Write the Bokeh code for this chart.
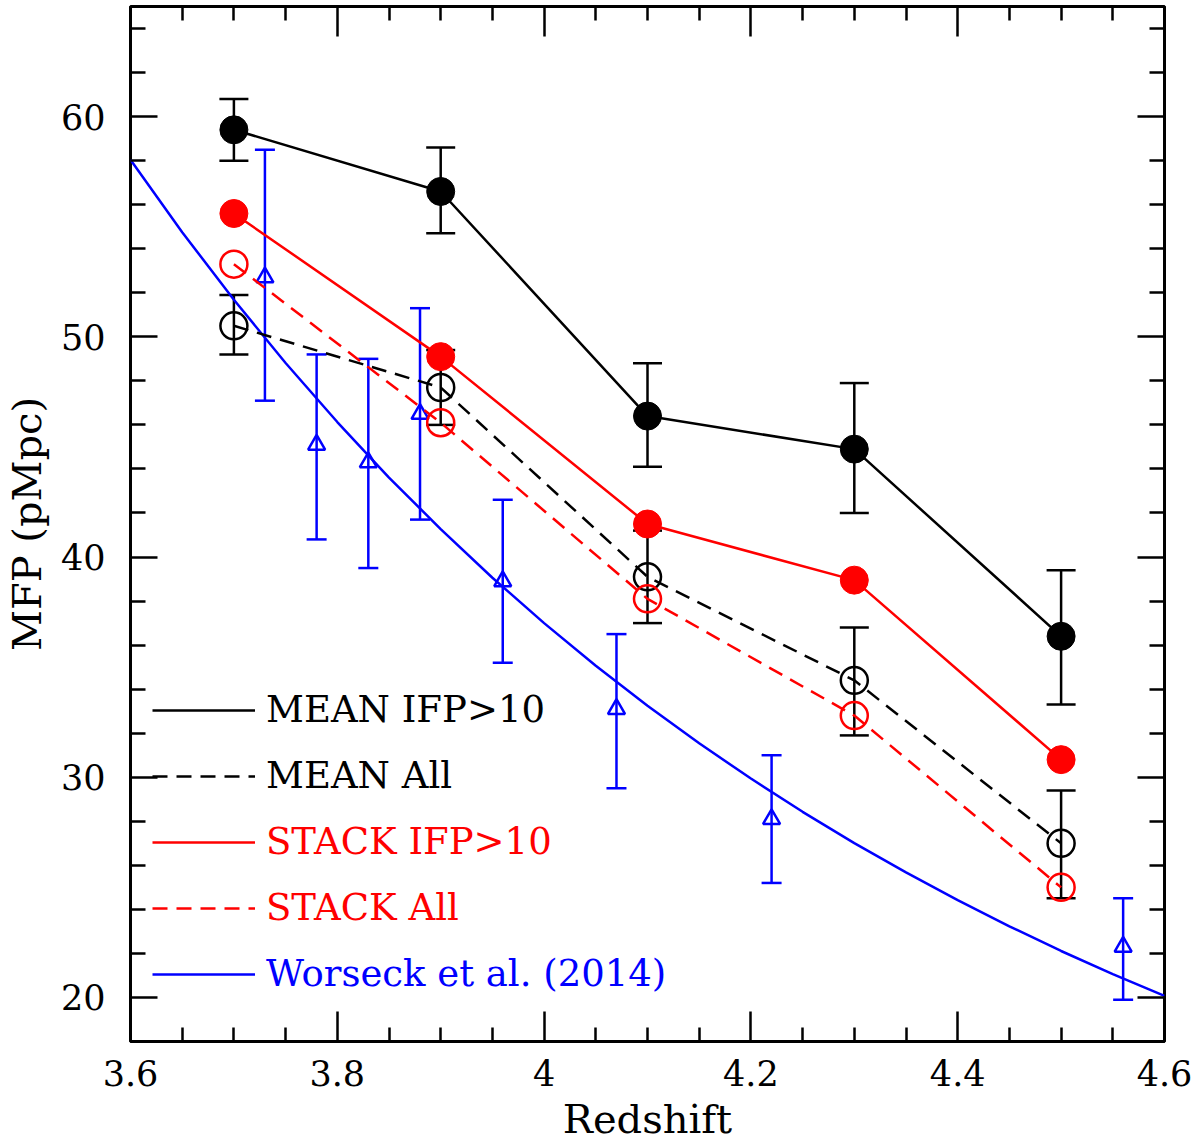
from bokeh.plotting import figure
from bokeh.models import (Range1d, LinearAxis, FixedTicker, CustomJSTickFormatter,
                          ColumnDataSource, Whisker, TeeHead, Legend, LegendItem)
from bokeh.embed import file_html
from bokeh.resources import INLINE

# --- data ---
redshift = [3.7, 3.9, 4.1, 4.3, 4.5]

mean_ifp = [59.4, 56.6, 46.4, 44.9, 36.4]
mean_ifp_lo = [58.0, 54.7, 44.1, 42.0, 33.3]
mean_ifp_hi = [60.8, 58.6, 48.8, 47.9, 39.4]

mean_all = [50.5, 47.7, 39.1, 34.4, 27.0]
mean_all_lo = [49.2, 46.0, 37.0, 31.9, 24.5]
mean_all_hi = [51.9, 49.4, 41.2, 36.8, 29.4]

stack_ifp = [55.6, 49.1, 41.5, 38.95, 30.8]
stack_all = [53.3, 46.1, 38.1, 32.8, 25.0]

w14_z = [3.73, 3.78, 3.83, 3.88, 3.96, 4.07, 4.22, 4.56]
w14_mfp = [52.7, 45.1, 44.3, 46.5, 38.9, 33.1, 28.1, 22.3]
w14_lo = [47.1, 40.8, 39.5, 41.7, 35.2, 29.5, 25.2, 19.9]
w14_hi = [58.5, 49.2, 49.0, 51.3, 42.6, 36.5, 31.0, 24.5]

fit_z = [3.6, 3.65, 3.7, 3.75, 3.8, 3.85, 3.9, 3.95, 4.0, 4.05, 4.1,
         4.15, 4.2, 4.25, 4.3, 4.35, 4.4, 4.45, 4.5, 4.55, 4.6]
fit_mfp = [58.04, 54.75, 51.68, 48.81, 46.13, 43.61, 41.27, 39.06, 37.00, 35.06, 33.25,
           31.54, 29.94, 28.43, 27.01, 25.68, 24.42, 23.23, 22.11, 21.06, 20.07]

x_major = [3.6, 3.8, 4.0, 4.2, 4.4, 4.6]
x_minor = [3.65, 3.7, 3.75, 3.85, 3.9, 3.95, 4.05, 4.1, 4.15,
           4.25, 4.3, 4.35, 4.45, 4.5, 4.55]
y_major = [20, 30, 40, 50, 60]
y_minor = [18, 22, 24, 26, 28, 32, 34, 36, 38, 42, 44, 46, 48,
           52, 54, 56, 58, 62, 64]

legend_labels = ["MEAN IFP>10", "MEAN All", "STACK IFP>10", "STACK All", "Worseck et al. (2014)"]

BLACK, RED, BLUE = "#000000", "#ff0000", "#0000ff"
SERIF = "DejaVu Serif"

p = figure(width=1195, height=1145, x_range=Range1d(3.6, 4.6), y_range=Range1d(18, 65),
           output_backend="svg", toolbar_location=None,
           min_border_left=130, min_border_right=31, min_border_top=6, min_border_bottom=104)
p.grid.visible = False
p.outline_line_color = BLACK
p.outline_line_width = 3
p.background_fill_color = "white"
p.border_fill_color = "white"

fmt = CustomJSTickFormatter(code="return String(Number(tick.toFixed(1)));")


def style_axis(ax, tick_len, minor_len, show_labels):
    ax.axis_line_color = None
    ax.major_tick_in = tick_len
    ax.major_tick_out = 0
    ax.minor_tick_in = minor_len
    ax.minor_tick_out = 0
    ax.major_tick_line_width = 2.5
    ax.minor_tick_line_width = 2.5
    ax.major_tick_line_color = BLACK
    ax.minor_tick_line_color = BLACK
    ax.formatter = fmt
    if show_labels:
        ax.major_label_text_font = SERIF
        ax.major_label_text_font_size = "35px"
        ax.major_label_text_color = BLACK
        ax.axis_label_text_font = SERIF
        ax.axis_label_text_font_size = "40px"
        ax.axis_label_text_font_style = "normal"
        ax.axis_label_text_color = BLACK
    else:
        ax.major_label_text_font_size = "1px"
        ax.major_label_text_alpha = 0
        ax.major_label_standoff = 0


xb = p.xaxis[0]
xb.ticker = FixedTicker(ticks=x_major, minor_ticks=x_minor)
style_axis(xb, 30, 14, True)
xb.axis_label = "Redshift"
xb.major_label_standoff = 18
xb.axis_label_standoff = 7

yl = p.yaxis[0]
yl.ticker = FixedTicker(ticks=y_major, minor_ticks=y_minor)
style_axis(yl, 27, 15, True)
yl.axis_label = "MFP (pMpc)"
yl.major_label_standoff = 25
yl.axis_label_standoff = 8

xt = LinearAxis(ticker=FixedTicker(ticks=x_major, minor_ticks=x_minor))
style_axis(xt, 30, 14, False)
p.add_layout(xt, "above")
yr = LinearAxis(ticker=FixedTicker(ticks=y_major, minor_ticks=y_minor))
style_axis(yr, 27, 15, False)
p.add_layout(yr, "right")

# --- Worseck et al. (2014) ---
fit_line = p.line(fit_z, fit_mfp, line_color=BLUE, line_width=2.5)
w_src = ColumnDataSource(dict(x=w14_z, y=w14_mfp, lo=w14_lo, hi=w14_hi))
p.add_layout(Whisker(source=w_src, base="x", lower="lo", upper="hi",
                     line_color=BLUE, line_width=2.5,
                     upper_head=TeeHead(size=20, line_color=BLUE, line_width=2.5),
                     lower_head=TeeHead(size=20, line_color=BLUE, line_width=2.5)))
p.scatter("x", "y", source=w_src, marker="triangle", size=17,
          fill_color=None, line_color=BLUE, line_width=2.5)

# --- error bars for the mean samples ---
m_src = ColumnDataSource(dict(x=redshift, y=mean_ifp, lo=mean_ifp_lo, hi=mean_ifp_hi))
a_src = ColumnDataSource(dict(x=redshift, y=mean_all, lo=mean_all_lo, hi=mean_all_hi))
for src in (m_src, a_src):
    p.add_layout(Whisker(source=src, base="x", lower="lo", upper="hi",
                         line_color=BLACK, line_width=2.5,
                         upper_head=TeeHead(size=29, line_color=BLACK, line_width=2.5),
                         lower_head=TeeHead(size=29, line_color=BLACK, line_width=2.5)))

# --- lines ---
l_mean_ifp = p.line(redshift, mean_ifp, line_color=BLACK, line_width=2.5)
l_mean_all = p.line(redshift, mean_all, line_color=BLACK, line_width=2.5, line_dash="15 9")
l_stack_ifp = p.line(redshift, stack_ifp, line_color=RED, line_width=2.5)
l_stack_all = p.line(redshift, stack_all, line_color=RED, line_width=2.5, line_dash="15 9")

# --- markers ---
p.scatter(redshift, mean_ifp, marker="circle", size=28, fill_color=BLACK, line_color=BLACK)
p.scatter(redshift, stack_ifp, marker="circle", size=28, fill_color=RED, line_color=RED)
p.scatter(redshift, mean_all, marker="circle", size=27, fill_color=None,
          line_color=BLACK, line_width=2.5)
p.scatter(redshift, stack_all, marker="circle", size=27, fill_color=None,
          line_color=RED, line_width=2.5)

# --- legend: one box per entry so each label gets its own colour ---
entries = [(legend_labels[0], l_mean_ifp, BLACK),
           (legend_labels[1], l_mean_all, BLACK),
           (legend_labels[2], l_stack_ifp, RED),
           (legend_labels[3], l_stack_all, RED),
           (legend_labels[4], fit_line, BLUE)]
for i, (label, rend, col) in enumerate(entries):
    leg = Legend(items=[LegendItem(label=label, renderers=[rend])],
                 location=(22, 310 - 66 * i), padding=0, margin=0, spacing=0,
                 glyph_width=103, glyph_height=40, label_height=40, label_standoff=11,
                 label_text_font=SERIF, label_text_font_size="37px",
                 label_text_color=col, label_text_baseline="middle",
                 border_line_color=None, background_fill_alpha=0)
    p.add_layout(leg, "center")

open("out.html", "w").write(file_html(p, INLINE))
